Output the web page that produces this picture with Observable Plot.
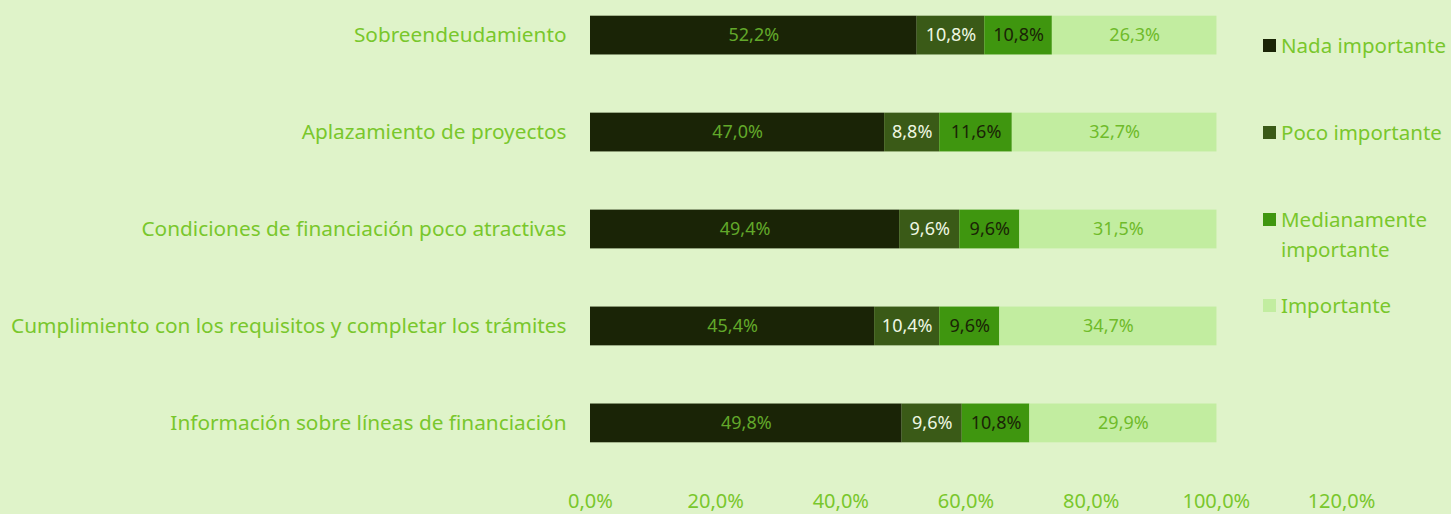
<!DOCTYPE html>
<html><head><meta charset="utf-8">
<script src="https://cdn.jsdelivr.net/npm/d3@7"></script>
<script src="https://cdn.jsdelivr.net/npm/@observablehq/plot@0.6"></script>
<style>
html,body{margin:0;padding:0;background:#dff3c9;}
#wrap{position:relative;width:1451px;height:514px;overflow:hidden;background:#dff3c9;font-family:"Noto Sans",sans-serif;}
#legend{position:absolute;left:1263px;top:0;color:#79c72c;font-size:20.5px;}
.li{position:absolute;left:0;width:190px;display:flex;align-items:flex-start;line-height:30px;}
.sw{width:13px;height:13px;margin-right:5px;margin-top:9px;flex:none;}
</style></head>
<body><div id="wrap"><div id="chart"></div><div id="legend"></div></div>
<script>
const categories = [
  "Sobreendeudamiento",
  "Aplazamiento de proyectos",
  "Condiciones de financiación poco atractivas",
  "Cumplimiento con los requisitos y completar los trámites",
  "Información sobre líneas de financiación"
];
const seriesNames = ["Nada importante","Poco importante","Medianamente importante","Importante"];
const nada = [52.2, 47.0, 49.4, 45.4, 49.8];
const poco = [10.8, 8.8, 9.6, 10.4, 9.6];
const mediana = [10.8, 11.6, 9.6, 9.6, 10.8];
const importante = [26.3, 32.7, 31.5, 34.7, 29.9];
const xTicks = [0, 20, 40, 60, 80, 100, 120];

const colors = ["#1a2406", "#3a5a17", "#3f960f", "#c2eda0"];
const labelColors = ["#62a82a", "#eef7e2", "#1a2406", "#6fbb2a"];
const seriesVals = [nada, poco, mediana, importante];

const rows = [];
categories.forEach((c, i) => {
  let acc = 0;
  seriesVals.forEach((vals, s) => {
    const v = vals[i];
    rows.push({cat: c, series: seriesNames[s], s, v, x1: acc, x2: acc + v});
    acc += v;
  });
});
const fmt = v => v.toFixed(1).replace(".", ",") + "%";

const plot = Plot.plot({
  width: 1451, height: 514,
  marginLeft: 590, marginRight: 110, marginTop: 6, marginBottom: 62,
  style: {background: "transparent", fontFamily: "Noto Sans, sans-serif", fontSize: "19px", color: "#79c72c"},
  x: {domain: [0, 120], axis: null},
  y: {domain: categories, axis: null, paddingInner: 0.6, paddingOuter: 0.1, round: false},
  color: {domain: seriesNames, range: colors},
  marks: [
    Plot.barX(rows, {y: "cat", x1: "x1", x2: "x2", fill: "series"}),
    Plot.text(rows, {y: "cat", x: d => (d.x1 + d.x2) / 2, text: d => fmt(d.v), fill: d => labelColors[d.s], fontSize: 18}),
    Plot.axisY({tickSize: 0, tickPadding: 24, fontSize: 20.8, fill: "#79c72c", label: null}),
    Plot.axisX({ticks: xTicks, tickSize: 0, tickPadding: 41, tickFormat: d => fmt(d), fontSize: 20, fill: "#79c72c", label: null})
  ]
});
document.getElementById("chart").appendChild(plot);

const legendTops = [30, 117, 204, 290];
const legend = document.getElementById("legend");
seriesNames.forEach((n, i) => {
  const el = document.createElement("div");
  el.className = "li";
  el.style.top = legendTops[i] + "px";
  const label = n === "Medianamente importante" ? "Medianamente<br>importante" : n;
  el.innerHTML = `<span class="sw" style="background:${colors[i]}"></span><span>${label}</span>`;
  legend.appendChild(el);
});
</script></body></html>
